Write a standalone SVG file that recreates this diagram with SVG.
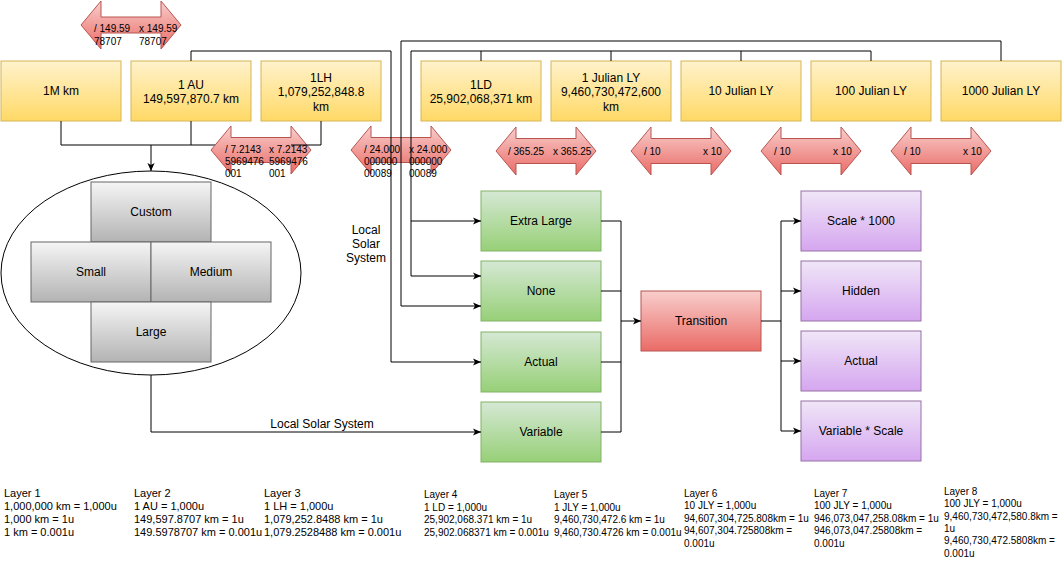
<svg xmlns="http://www.w3.org/2000/svg" width="1063" height="563" viewBox="0 0 1063 563">
<style>
text{font-family:"Liberation Sans",Arial,sans-serif;fill:#000}
.n{font-size:12px;text-anchor:middle}
.a{font-size:10px}
.b{font-size:11px}
.c{font-size:10px}
.y{fill:url(#gy);stroke:#d6b656}
.g{fill:url(#gg);stroke:#82b366}
.p{fill:url(#gp);stroke:#9673a6}
.r{fill:url(#gr);stroke:#b85450}
.k{fill:url(#gk);stroke:#666666}
.e{fill:none;stroke:#000;stroke-width:1}
.m{marker-end:url(#arr)}
</style>
<defs>
<linearGradient id="gy" x1="0" y1="0" x2="0" y2="1"><stop offset="0" stop-color="#fff2cc"/><stop offset="1" stop-color="#ffd966"/></linearGradient>
<linearGradient id="gg" x1="0" y1="0" x2="0" y2="1"><stop offset="0" stop-color="#d5e8d4"/><stop offset="1" stop-color="#97d077"/></linearGradient>
<linearGradient id="gp" x1="0" y1="0" x2="0" y2="1"><stop offset="0" stop-color="#f0e6f7"/><stop offset="1" stop-color="#d5a6f0"/></linearGradient>
<linearGradient id="gr" x1="0" y1="0" x2="0" y2="1"><stop offset="0" stop-color="#f8cecc"/><stop offset="1" stop-color="#ea6b66"/></linearGradient>
<linearGradient id="gk" x1="0" y1="0" x2="0" y2="1"><stop offset="0" stop-color="#f5f5f5"/><stop offset="1" stop-color="#b3b3b3"/></linearGradient>
<marker id="arr" viewBox="0 0 10 10" refX="10" refY="5" markerWidth="8" markerHeight="8" markerUnits="userSpaceOnUse" orient="auto"><path d="M0,0.5 L10,5 L0,9.5 L2.5,5 Z" fill="#000"/></marker>
</defs>
<rect width="1063" height="563" fill="#fff"/>

<g id="ellipse-group"><ellipse cx="151" cy="273" rx="150" ry="102" fill="#fff" stroke="#000"/></g>
<g id="custom"><rect class="k" x="91" y="182" width="120" height="60"/><text class="n" x="151" y="216.3">Custom</text></g>
<g id="small"><rect class="k" x="31" y="242" width="120" height="60"/><text class="n" x="91" y="276.3">Small</text></g>
<g id="medium"><rect class="k" x="151" y="242" width="120" height="60"/><text class="n" x="211" y="276.3">Medium</text></g>
<g id="large"><rect class="k" x="91" y="302" width="120" height="60"/><text class="n" x="151" y="336.3">Large</text></g>

<g id="box-1m"><rect class="y" x="1" y="61" width="120" height="60"/><text class="n" x="61" y="95.3">1M km</text></g>
<g id="box-au"><rect class="y" x="131" y="61" width="120" height="60"/><text class="n" x="191" y="88.5">1 AU</text><text class="n" x="191" y="103">149,597,870.7 km</text></g>
<g id="box-lh"><rect class="y" x="261" y="61" width="120" height="60"/><text class="n" x="321" y="82">1LH</text><text class="n" x="321" y="96.4">1,079,252,848.8</text><text class="n" x="321" y="110.8">km</text></g>
<g id="box-ld"><rect class="y" x="421" y="61" width="120" height="60"/><text class="n" x="481" y="88.5">1LD</text><text class="n" x="481" y="103">25,902,068,371 km</text></g>
<g id="box-jly1"><rect class="y" x="551" y="61" width="120" height="60"/><text class="n" x="611" y="82">1 Julian LY</text><text class="n" x="611" y="96.4">9,460,730,472,600</text><text class="n" x="611" y="110.8">km</text></g>
<g id="box-jly10"><rect class="y" x="681" y="61" width="120" height="60"/><text class="n" x="741" y="95.3">10 Julian LY</text></g>
<g id="box-jly100"><rect class="y" x="811" y="61" width="120" height="60"/><text class="n" x="871" y="95.3">100 Julian LY</text></g>
<g id="box-jly1000"><rect class="y" x="941" y="61" width="120" height="60"/><text class="n" x="1001" y="95.3">1000 Julian LY</text></g>

<g id="extra-large"><rect class="g" x="481" y="191" width="120" height="60"/><text class="n" x="541" y="225.3">Extra Large</text></g>
<g id="none"><rect class="g" x="481" y="261" width="120" height="60"/><text class="n" x="541" y="295.3">None</text></g>
<g id="actual"><rect class="g" x="481" y="332" width="120" height="60"/><text class="n" x="541" y="366.3">Actual</text></g>
<g id="variable"><rect class="g" x="481" y="402" width="120" height="60"/><text class="n" x="541" y="436.3">Variable</text></g>

<g id="transition"><rect class="r" x="641" y="291" width="120" height="60"/><text class="n" x="701" y="325.3">Transition</text></g>

<g id="scale1000"><rect class="p" x="801" y="191" width="120" height="60"/><text class="n" x="861" y="225.3">Scale * 1000</text></g>
<g id="hidden"><rect class="p" x="801" y="261" width="120" height="60"/><text class="n" x="861" y="295.3">Hidden</text></g>
<g id="actual2"><rect class="p" x="801" y="331" width="120" height="60"/><text class="n" x="861" y="365.3">Actual</text></g>
<g id="varscale"><rect class="p" x="801" y="401" width="120" height="60"/><text class="n" x="861" y="435.3">Variable * Scale</text></g>

<g id="connectors-under">
<path class="e" d="M291,145 H151"/>
</g>

<g id="arrow-149">
<path class="r" d="M81,25 L101,1 V17 H161 V1 L181,25 L161,49 V33 H101 V49 Z"/>
<text class="a" x="94" y="32">/ 149.59</text><text class="a" x="94" y="45">78707</text>
<text class="a" x="139" y="32">x 149.59</text><text class="a" x="139" y="45">78707</text>
</g>
<g id="arrow-72143">
<path class="r" d="M211,150 L231,126 V137.5 H291 V126 L311,150 L291,174 V162.5 H231 V174 Z"/>
<text class="a" x="225" y="153"><tspan x="225">/ 7.2143</tspan><tspan x="225" dy="12">5969476</tspan><tspan x="225" dy="12">001</tspan></text>
<text class="a" x="269" y="153"><tspan x="269">x 7.2143</tspan><tspan x="269" dy="12">5969476</tspan><tspan x="269" dy="12">001</tspan></text>
</g>
<g id="arrow-24">
<path class="r" d="M351,150 L371,126 V137.5 H431 V126 L451,150 L431,174 V162.5 H371 V174 Z"/>
<text class="a" x="364" y="153"><tspan x="364">/ 24.000</tspan><tspan x="364" dy="12">000000</tspan><tspan x="364" dy="12">00089</tspan></text>
<text class="a" x="409" y="153"><tspan x="409">x 24.000</tspan><tspan x="409" dy="12">000000</tspan><tspan x="409" dy="12">00089</tspan></text>
</g>
<g id="arrow-36525">
<path class="r" d="M496,151 L516,127 V138.5 H576 V127 L596,151 L576,175 V163.5 H516 V175 Z"/>
<text class="a" x="508" y="154.6">/ 365.25</text><text class="a" x="553" y="154.6">x 365.25</text>
</g>
<g id="arrow-10a">
<path class="r" d="M631,151 L651,127 V138.5 H711 V127 L731,151 L711,175 V163.5 H651 V175 Z"/>
<text class="a" x="644" y="154.6">/ 10</text><text class="a" x="703" y="154.6">x 10</text>
</g>
<g id="arrow-10b">
<path class="r" d="M761,151 L781,127 V138.5 H841 V127 L861,151 L841,175 V163.5 H781 V175 Z"/>
<text class="a" x="774" y="154.6">/ 10</text><text class="a" x="833" y="154.6">x 10</text>
</g>
<g id="arrow-10c">
<path class="r" d="M891,151 L911,127 V138.5 H971 V127 L991,151 L971,175 V163.5 H911 V175 Z"/>
<text class="a" x="904" y="154.6">/ 10</text><text class="a" x="963" y="154.6">x 10</text>
</g>

<g id="connectors">
<path class="e" d="M61,121 V145 H151"/>
<path class="e" d="M191,121 V145"/>
<path class="e" d="M321,121 V145 H291"/>
<path class="e m" d="M151,145 V171"/>
<path class="e m" d="M191,61 V51 H391 V362 H481"/>
<path class="e m" d="M1001,61 V41 H401 V306 H481"/>
<path class="e m" d="M871,61 V51 H411 V221 H481"/>
<path class="e" d="M481,61 V51 M611,61 V51 M741,61 V51"/>
<path class="e m" d="M411,221 V276 H481"/>
<path class="e m" d="M151,375 V432 H481"/>
<path class="e m" d="M621,321 H641"/>
<path class="e" d="M601,221 H621 V432 M601,291 H621 M601,362 H621 M601,432 H621"/>
<path class="e" d="M761,321 H781 M781,221 V431"/>
<path class="e m" d="M781,221 H801"/>
<path class="e m" d="M781,291 H801"/>
<path class="e m" d="M781,361 H801"/>
<path class="e m" d="M781,431 H801"/>
<text class="n" x="366" y="233.5">Local</text>
<text class="n" x="366" y="247.8">Solar</text>
<text class="n" x="366" y="262">System</text>
<text class="n" x="322" y="427.5">Local Solar System</text>
</g>

<g id="layer1"><text class="b" x="4" y="496.5"><tspan x="4">Layer 1</tspan><tspan x="4" dy="13.2">1,000,000 km = 1,000u</tspan><tspan x="4" dy="13.2">1,000 km = 1u</tspan><tspan x="4" dy="13.2">1 km = 0.001u</tspan></text></g>
<g id="layer2"><text class="b" x="134" y="496.5"><tspan x="134">Layer 2</tspan><tspan x="134" dy="13.2">1 AU = 1,000u</tspan><tspan x="134" dy="13.2">149,597.8707 km = 1u</tspan><tspan x="134" dy="13.2">149.5978707 km = 0.001u</tspan></text></g>
<g id="layer3"><text class="b" x="264" y="496.5"><tspan x="264">Layer 3</tspan><tspan x="264" dy="13.2">1 LH = 1,000u</tspan><tspan x="264" dy="13.2">1,079,252.8488 km = 1u</tspan><tspan x="264" dy="13.2">1,079.2528488 km = 0.001u</tspan></text></g>
<g id="layer4"><text class="c" x="424" y="498"><tspan x="424">Layer 4</tspan><tspan x="424" dy="12.5">1 LD = 1,000u</tspan><tspan x="424" dy="12.5">25,902,068.371 km = 1u</tspan><tspan x="424" dy="12.5">25,902.068371 km = 0.001u</tspan></text></g>
<g id="layer5"><text class="c" x="554" y="498"><tspan x="554">Layer 5</tspan><tspan x="554" dy="12.5">1 JLY = 1,000u</tspan><tspan x="554" dy="12.5">9,460,730,472.6 km = 1u</tspan><tspan x="554" dy="12.5">9,460,730.4726 km = 0.001u</tspan></text></g>
<g id="layer6"><text class="c" x="684" y="496.5"><tspan x="684">Layer 6</tspan><tspan x="684" dy="12.5">10 JLY = 1,000u</tspan><tspan x="684" dy="12.5">94,607,304,725.808km = 1u</tspan><tspan x="684" dy="12.5">94,607,304.725808km =</tspan><tspan x="684" dy="12.5">0.001u</tspan></text></g>
<g id="layer7"><text class="c" x="814" y="496.5"><tspan x="814">Layer 7</tspan><tspan x="814" dy="12.5">100 JLY = 1,000u</tspan><tspan x="814" dy="12.5">946,073,047,258.08km = 1u</tspan><tspan x="814" dy="12.5">946,073,047.25808km =</tspan><tspan x="814" dy="12.5">0.001u</tspan></text></g>
<g id="layer8"><text class="c" x="944" y="495"><tspan x="944">Layer 8</tspan><tspan x="944" dy="12.3">100 JLY = 1,000u</tspan><tspan x="944" dy="12.3">9,460,730,472,580.8km =</tspan><tspan x="944" dy="12.3">1u</tspan><tspan x="944" dy="12.3">9,460,730,472.5808km =</tspan><tspan x="944" dy="12.3">0.001u</tspan></text></g>
</svg>
